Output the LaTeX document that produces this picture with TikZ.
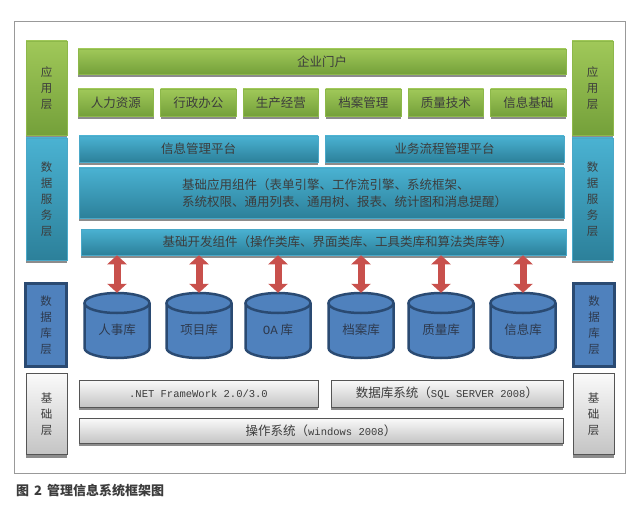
\documentclass[tikz,border=0pt]{standalone}
\usepackage{fontspec}
\setmainfont{Noto Sans CJK SC}
\newfontfamily\monof{Liberation Mono}
\usetikzlibrary{shadows,arrows.meta}
\definecolor{gTop}{HTML}{A0C859}
\definecolor{gBot}{HTML}{74A03A}
\definecolor{gLine}{HTML}{8DB84A}
\definecolor{bTop}{HTML}{4AB2D2}
\definecolor{bBot}{HTML}{2C809A}
\definecolor{bLine}{HTML}{4AA8C8}
\definecolor{yTop}{HTML}{FAFAFA}
\definecolor{yBot}{HTML}{C4C4C4}
\definecolor{yLine}{HTML}{555555}
\definecolor{shd}{HTML}{8C8C8C}
\definecolor{dbFill}{HTML}{4F81BD}
\definecolor{dbLine}{HTML}{2A4A72}
\definecolor{txt}{HTML}{3C3C3C}
\definecolor{dbtxt}{HTML}{2E3A4E}
\definecolor{arrRed}{HTML}{C8504C}
\definecolor{frameC}{HTML}{999999}
\tikzset{
  base/.style={rectangle, inner sep=0pt, text=txt, font=\fontsize{12.5}{14}\selectfont},
  shad/.style={drop shadow={shadow xshift=0pt, shadow yshift=-3pt, fill=shd, opacity=1}},
  gbox/.style={base, shad, top color=gTop, bottom color=gBot, draw=gLine, line width=0.5pt},
  bbox/.style={base, shad, top color=bTop, bottom color=bBot, draw=bLine, line width=0.5pt},
  ybox/.style={base, shad, top color=yTop, bottom color=yBot, draw=yLine, line width=0.6pt},
  dbside/.style={base, fill=dbFill, draw=dbLine, line width=3pt, text=dbtxt},
  side/.style={align=center, font=\fontsize{11.5}{16}\selectfont},
  cylbody/.style={fill=dbFill},
  cylline/.style={draw=dbLine, line width=2.5pt},
  dbtext/.style={inner sep=0pt, text=dbtxt, font=\fontsize{12.5}{14}\selectfont},
  rarrow/.style={draw=arrRed, line width=7pt, {Triangle[width=19pt,length=9pt]}-{Triangle[width=19pt,length=9pt]}},
  captext/.style={anchor=west, inner sep=0pt, text=txt, font=\bfseries\fontsize{13}{15}\selectfont}
}
\newcommand\dbcyl[3]{%
  \fill[cylbody] (#1-32.5,303) rectangle (#1+32.5,348);
  \fill[cylbody] (#1,348) ellipse (32.5 and 10);
  \fill[cylbody] (#1,303) ellipse (32.5 and 10);
  \draw[cylline] (#1-32.5,303) -- (#1-32.5,348) arc (180:0:32.5 and 10) -- (#1+32.5,303);
  \draw[cylline] (#1,303) ellipse (32.5 and 10);
  \node[dbtext, minimum width=65, minimum height=74] (#2) at (#1,330) {#3};
  \draw[rarrow] (dev.south -| #2.north) -- (#2.north);
}
\begin{document}
\begin{tikzpicture}[x=1pt, y=-1pt]
\useasboundingbox (0,0) rectangle (640,508);
% outer frame
\node[draw=frameC, line width=1pt, minimum width=611, minimum height=451, inner sep=0pt] (frame) at (319.5,247.5) {};
% side labels
\node[gbox, side, minimum width=41, minimum height=94] (appL) at (46.5,88) {应\\用\\层};
\node[gbox, side, minimum width=41, minimum height=94] (appR) at (592.5,88) {应\\用\\层};
\node[bbox, side, minimum width=41, minimum height=122] (svcL) at (46.5,199) {数\\据\\服\\务\\层};
\node[bbox, side, minimum width=41, minimum height=122] (svcR) at (592.5,199) {数\\据\\服\\务\\层};
\node[dbside, side, minimum width=41, minimum height=83] (dbL) at (46,325) {数\\据\\库\\层};
\node[dbside, side, minimum width=41, minimum height=83] (dbR) at (594,325) {数\\据\\库\\层};
\node[ybox, side, minimum width=41, minimum height=81] (infL) at (46.5,414) {基\\础\\层};
\node[ybox, side, minimum width=41, minimum height=81] (infR) at (593.5,414) {基\\础\\层};
% application layer
\node[gbox, minimum width=488, minimum height=25] (portal) at (322,61.5) {企业门户};
\node[gbox, minimum width=75.5, minimum height=27] (m1) at (115.75,102.5) {人力资源};
\node[gbox, minimum width=75.5, minimum height=27] (m2) at (198.25,102.5) {行政办公};
\node[gbox, minimum width=75.5, minimum height=27] (m3) at (280.75,102.5) {生产经营};
\node[gbox, minimum width=75.5, minimum height=27] (m4) at (363.25,102.5) {档案管理};
\node[gbox, minimum width=75.5, minimum height=27] (m5) at (445.75,102.5) {质量技术};
\node[gbox, minimum width=75.5, minimum height=27] (m6) at (528.25,102.5) {信息基础};
% data service layer
\node[bbox, minimum width=239, minimum height=26] (imp) at (198.5,149) {信息管理平台};
\node[bbox, minimum width=239, minimum height=26] (bpm) at (444.5,149) {业务流程管理平台};
\node[bbox, minimum width=485, minimum height=50,
  label={[xshift=23pt, align=left, inner sep=0pt, text=txt, font=\fontsize{12.5}{17}\selectfont]center:基础应用组件（表单引擎、工作流引擎、系统框架、\\系统权限、通用列表、通用树、报表、统计图和消息提醒）}] (comp) at (321.5,193) {};
\node[bbox, minimum width=485, minimum height=26,
  label={[xshift=14pt, inner sep=0pt, text=txt, font=\fontsize{12.5}{14}\selectfont]center:基础开发组件（操作类库、界面类库、工具类库和算法类库等）}] (dev) at (323.5,242) {};
% databases
\dbcyl{117}{c1}{人事库}
\dbcyl{199}{c2}{项目库}
\dbcyl{278}{c3}{{\monof OA} 库}
\dbcyl{361}{c4}{档案库}
\dbcyl{441}{c5}{质量库}
\dbcyl{523}{c6}{信息库}
% infrastructure
\node[ybox, minimum width=239, minimum height=27] (net) at (198.5,393.5) {\monof\fontsize{10.5}{12}\selectfont .NET FrameWork 2.0/3.0};
\node[ybox, minimum width=232, minimum height=27] (sql) at (447,393.5) {数据库系统（{\monof\fontsize{10.5}{12}\selectfont SQL SERVER 2008}）};
\node[ybox, minimum width=484, minimum height=25] (os) at (321,430.5) {操作系统（{\monof\fontsize{10.5}{12}\selectfont windows 2008}）};
% caption
\node[captext] (caption) at (16,490.5) {图\hspace{5pt}2\hspace{5pt}管理信息系统框架图};
\end{tikzpicture}
\end{document}
